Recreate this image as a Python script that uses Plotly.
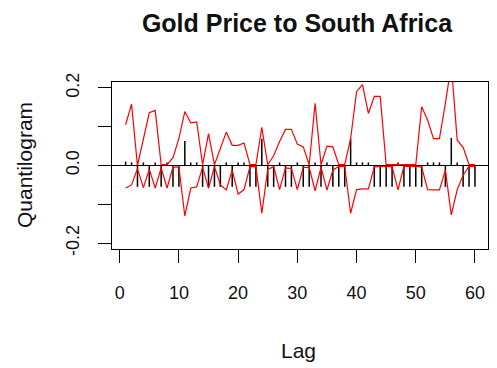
import plotly.graph_objects as go

# ---- data ----
lags = list(range(1, 61))

quantilogram = [
    0.010, 0.008, -0.055, 0.008, -0.055, 0.008, -0.055, 0.008, -0.055, -0.055,
    0.063, 0.008, 0.008, -0.055, -0.055, -0.055, -0.055, 0.008, -0.055, 0.008,
    0.008, -0.055, -0.055, 0.069, -0.055, -0.055, 0.008, -0.055, -0.055, 0.008,
    -0.055, -0.055, 0.008, -0.055, 0.008, -0.055, -0.055, -0.055, 0.069, 0.008,
    0.008, 0.008, -0.055, -0.055, -0.055, -0.055, 0.008, -0.055, -0.055, -0.055,
    -0.055, 0.008, 0.008, 0.008, -0.055, 0.071, 0.008, -0.055, -0.055, -0.055,
]

upper = [
    0.105, 0.158, 0.000, 0.070, 0.136, 0.142, 0.002, 0.002, 0.020, 0.070,
    0.139, 0.110, 0.112, 0.002, 0.082, 0.002, 0.046, 0.086, 0.052, 0.052,
    0.058, 0.002, 0.002, 0.098, 0.002, 0.025, 0.062, 0.093, 0.093, 0.055,
    0.048, 0.002, 0.160, 0.002, 0.050, 0.048, 0.002, 0.002, 0.069, 0.190,
    0.208, 0.134, 0.178, 0.178, 0.002, 0.002, 0.002, 0.002, 0.002, 0.002,
    0.151, 0.117, 0.069, 0.069, 0.160, 0.260, 0.065, 0.047, 0.002, 0.002,
]

lower = [
    -0.058, -0.050, -0.008, -0.057, -0.010, -0.058, -0.006, -0.058, -0.004, -0.004,
    -0.130, -0.058, -0.055, -0.004, -0.059, -0.003, -0.050, -0.063, -0.012, -0.074,
    -0.062, -0.003, -0.003, -0.123, -0.010, -0.003, -0.062, -0.006, -0.008, -0.062,
    -0.005, -0.005, -0.065, -0.005, -0.063, -0.012, -0.002, -0.002, -0.123, -0.062,
    -0.060, -0.060, -0.004, -0.002, -0.002, -0.003, -0.063, -0.002, -0.002, -0.002,
    -0.004, -0.062, -0.063, -0.063, -0.012, -0.127, -0.062, -0.025, -0.002, -0.002,
]

x_ticks = [0, 10, 20, 30, 40, 50, 60]
y_ticks = [-0.2, -0.1, 0.0, 0.1, 0.2]
y_tick_text = ["-0.2", "", "0.0", "", "0.2"]

title_text = "Gold Price to South Africa"
x_title = "Lag"
y_title = "Quantilogram"

FONT = "Liberation Sans, Arial, sans-serif"

# spikes (type = "h") built from the data
spike_x, spike_y = [], []
for k, v in zip(lags, quantilogram):
    spike_x += [k, k, None]
    spike_y += [0, v, None]

fig = go.Figure()
fig.add_trace(go.Scatter(x=spike_x, y=spike_y, mode="lines",
                         line=dict(color="black", width=1.5),
                         hoverinfo="skip", showlegend=False))
fig.add_trace(go.Scatter(x=lags, y=upper, mode="lines",
                         line=dict(color="#FF0000", width=1.2),
                         showlegend=False))
fig.add_trace(go.Scatter(x=lags, y=lower, mode="lines",
                         line=dict(color="#FF0000", width=1.2),
                         showlegend=False))

fig.add_shape(type="line", xref="paper", x0=0, x1=1, yref="y", y0=0, y1=0,
              line=dict(color="black", width=1.2), layer="below")

# the page body has an 8px margin, so the figure is 8px smaller and shifted
W, H = 489, 360
L, R, T, B = 104, 9, 74, 119
PW, PH = W - L - R, H - T - B

fig.update_layout(
    width=W, height=H,
    margin=dict(l=L, r=R, t=T, b=B, autoexpand=False),
    paper_bgcolor="white", plot_bgcolor="white",
    font=dict(family=FONT, color="#111111"),
    title=dict(text="<b>" + title_text + "</b>", x=289 / W, xanchor="center",
               xref="container", y=1 - 15 / H, yanchor="middle",
               font=dict(size=25, color="#111111")),
    xaxis=dict(range=[-1.3, 62.2], tickvals=x_ticks, ticks="outside", ticklen=13,
               tickwidth=1, tickcolor="black", showline=True, linecolor="black",
               linewidth=1, mirror=True, showgrid=False, zeroline=False,
               automargin=False,
               tickfont=dict(size=18), ticklabelstandoff=14),
    yaxis=dict(range=[-0.215, 0.215], tickvals=y_ticks, ticktext=y_tick_text,
               ticks="outside", ticklen=13, tickwidth=1, tickcolor="black",
               showline=True, linecolor="black", linewidth=1, mirror=True,
               showgrid=False, zeroline=False, tickangle=-90, automargin=False,
               tickfont=dict(size=18), ticklabelstandoff=12),
    annotations=[
        dict(text=x_title, xref="paper", yref="paper", x=(290 - L) / PW,
             y=-(342 - (T + PH)) / PH, xanchor="center", yanchor="middle",
             showarrow=False, font=dict(size=21)),
        dict(text=y_title, xref="paper", yref="paper", x=-(L - 16) / PW,
             y=((T + PH) - 157) / PH, xanchor="center", yanchor="middle",
             textangle=-90, showarrow=False, font=dict(size=21)),
    ],
)

fig.write_html("out.html")
